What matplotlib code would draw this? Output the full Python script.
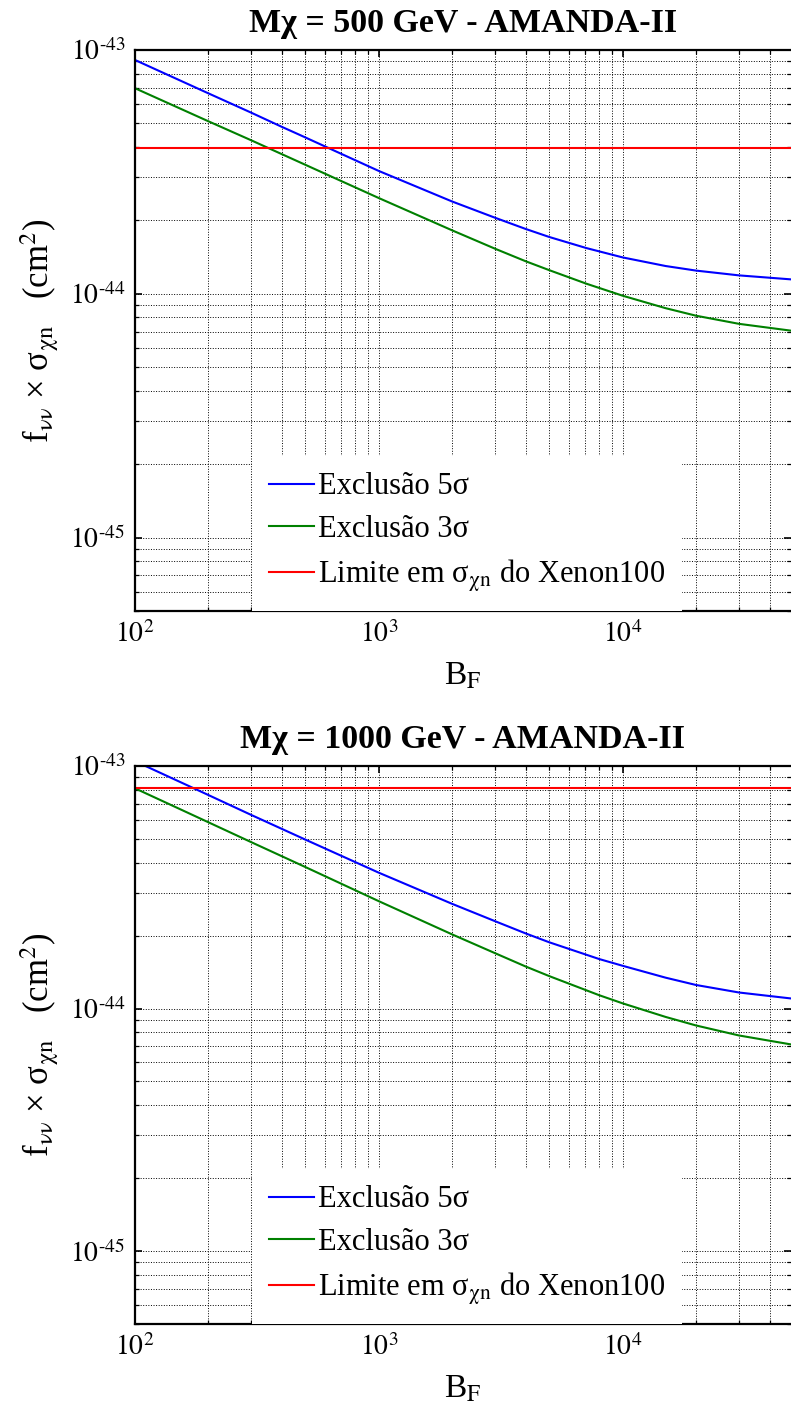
import matplotlib
matplotlib.use("Agg")
import matplotlib.pyplot as plt
from matplotlib.ticker import FuncFormatter
import numpy as np

plt.rcParams['font.family'] = ['Liberation Serif', 'DejaVu Serif']
plt.rcParams['mathtext.fontset'] = 'stix'

# --- data ---
# top panel: M_chi = 500 GeV
bf_500 = [100, 200, 300, 400, 475, 1000, 2000, 3000, 4000, 5000, 7100,
          10000, 15000, 20000, 30000, 49000]
excl5_500 = [9.10e-44, 6.64e-44, 5.53e-44, 4.84e-44, 4.48e-44, 3.19e-44,
             2.39e-44, 2.05e-44, 1.845e-44, 1.71e-44, 1.54e-44, 1.41e-44,
             1.30e-44, 1.245e-44, 1.19e-44, 1.146e-44]
excl3_500 = [6.97e-44, 5.10e-44, 4.26e-44, 3.74e-44, 3.46e-44, 2.47e-44,
             1.82e-44, 1.53e-44, 1.36e-44, 1.25e-44, 1.10e-44, 9.82e-45,
             8.73e-45, 8.13e-45, 7.53e-45, 7.06e-45]
xenon_500 = 3.97e-44

# bottom panel: M_chi = 1000 GeV
bf_1000 = [100, 200, 300, 500, 1000, 2000, 3000, 4000, 5000, 8000,
           10000, 15000, 20000, 30000, 49000]
excl5_1000 = [1.047e-43, 7.59e-44, 6.28e-44, 4.97e-44, 3.63e-44, 2.70e-44,
              2.29e-44, 2.04e-44, 1.875e-44, 1.60e-44, 1.50e-44, 1.34e-44,
              1.25e-44, 1.164e-44, 1.10e-44]
excl3_1000 = [8.09e-44, 5.86e-44, 4.85e-44, 3.83e-44, 2.77e-44, 2.02e-44,
              1.69e-44, 1.49e-44, 1.36e-44, 1.135e-44, 1.05e-44, 9.23e-45,
              8.51e-45, 7.74e-45, 7.11e-45]
xenon_1000 = 8.1e-44

x_major = [1e2, 1e3, 1e4]
y_major = [1e-45, 1e-44, 1e-43]

panels = [
    ("Mχ = 500 GeV - AMANDA-II", bf_500, excl5_500, excl3_500, xenon_500),
    ("Mχ = 1000 GeV - AMANDA-II", bf_1000, excl5_1000, excl3_1000, xenon_1000),
]


def pow10(v, pos):
    e = int(round(np.log10(v)))
    return r'$10^{\text{%d}}$' % e


W, H = 791, 1416
fig = plt.figure(figsize=(W / 100, H / 100), dpi=100)

# axes boxes in pixels: (left, top, right, bottom)
boxes = [(135, 50, 791, 611), (135, 766, 791, 1324)]

for (title, bf, e5, e3, xen), (l, t, r, b) in zip(panels, boxes):
    ax = fig.add_axes([l / W, 1 - b / H, (r - l) / W, (b - t) / H])
    ax.set_xscale('log')
    ax.set_yscale('log')
    ax.set_xticks(x_major)
    ax.set_yticks(y_major)
    ax.set_xlim(100, 4.9e4)
    ax.set_ylim(5e-46, 1e-43)
    ax.xaxis.set_major_formatter(FuncFormatter(pow10))
    ax.yaxis.set_major_formatter(FuncFormatter(pow10))

    ax.grid(True, which='both', linestyle=':', color='k', linewidth=0.7)
    ax.set_axisbelow(True)

    ax.plot(bf, e5, color=(0, 0, 1), lw=1.5, label='Exclusão 5σ')
    ax.plot(bf, e3, color=(0, 0.5, 0), lw=1.5, label='Exclusão 3σ')
    ax.axhline(xen, color=(1, 0, 0), lw=1.5,
               label=r'Limite em σ$_{\mathrm{χn}}$ do Xenon100')

    ax.set_title(title, fontsize=24.5, fontweight='bold', pad=13)
    ax.set_xlabel(r'B$_\mathrm{F}$', fontsize=24)
    ax.xaxis.set_label_coords(0.5, -0.09)
    ax.set_ylabel(r'f$_{\mathrm{νν}}$ × σ$_{\mathrm{χn}}$   (cm$^2$)',
                  fontsize=25)
    ax.yaxis.set_label_coords(-0.113, 0.5)

    ax.tick_params(which='both', direction='in', top=True, right=True,
                   labelsize=20, pad=7)
    ax.tick_params(which='major', length=5, width=1.2)
    ax.tick_params(which='minor', length=3, width=0.9)
    for s in ax.spines.values():
        s.set_linewidth(1.6)
    ax.spines['right'].set_visible(False)

    leg = ax.legend(loc='lower left', bbox_to_anchor=(0.178, 0.0),
                    fontsize=22, frameon=True, facecolor='white',
                    edgecolor='none', framealpha=1, fancybox=False,
                    handlelength=1.5, handletextpad=0.12, labelspacing=0.45,
                    borderpad=0.55, borderaxespad=0)

fig.savefig('out.png', dpi=100)
